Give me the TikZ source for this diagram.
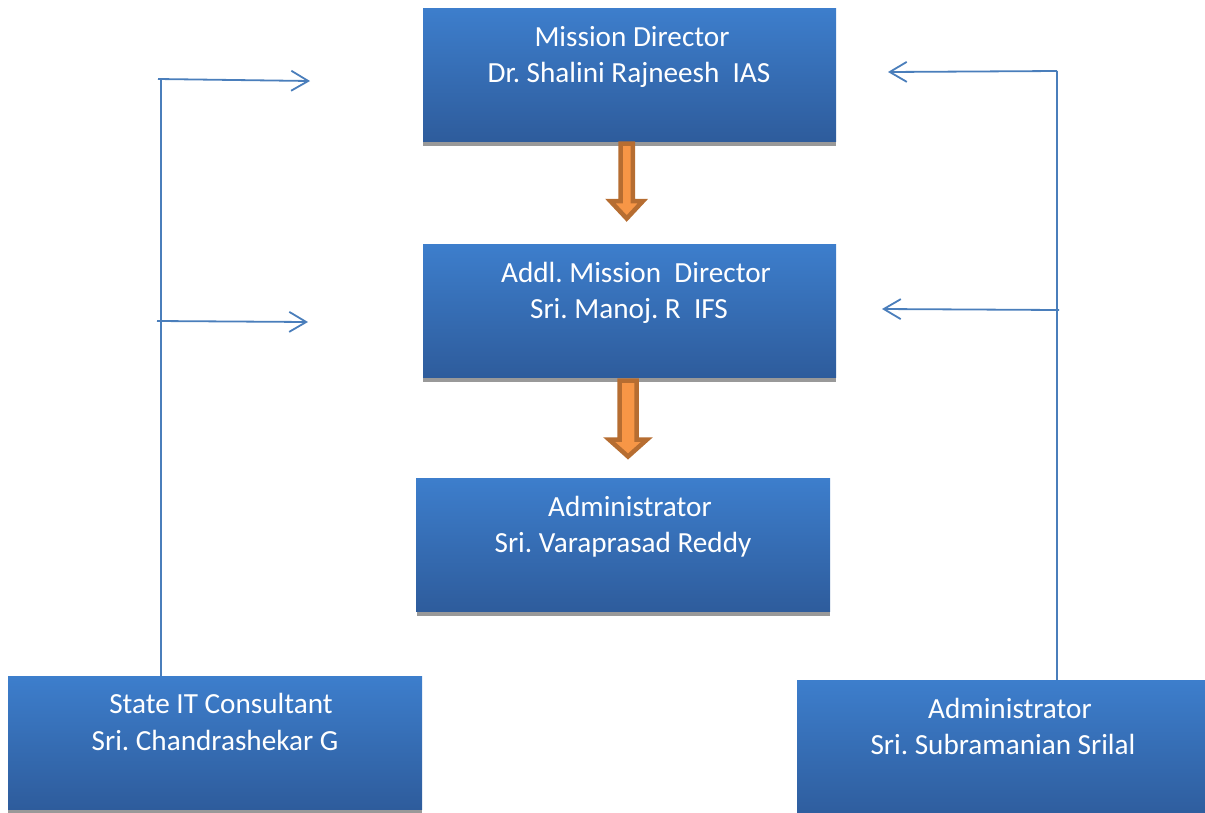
\documentclass[tikz,border=0pt]{standalone}
\usepackage{fontspec}
\setmainfont{Carlito}
\frenchspacing
\usetikzlibrary{arrows.meta}
\definecolor{boxtop}{RGB}{61,126,204}
\definecolor{boxbot}{RGB}{46,92,156}
\definecolor{shadowgray}{RGB}{153,153,153}
\definecolor{linkblue}{RGB}{74,126,187}
\definecolor{orfill}{RGB}{247,150,70}
\definecolor{ordraw}{RGB}{182,109,49}
\tikzset{
  orgbox/.style={rectangle, inner sep=0pt, top color=boxtop, bottom color=boxbot, draw=none, anchor=north west},
  shadowbar/.style={fill=shadowgray, draw=none},
  txt/.style={text=white, font=\fontsize{29.2}{35}\selectfont, anchor=base, inner sep=0pt},
  conn/.style={draw=linkblue, line width=1.8pt},
  connarrow/.style={conn, -{Straight Barb[length=17pt,width=20pt,line width=1.8pt]}},
  blockarrow/.style={fill=orfill, draw=ordraw, line width=4.5pt, line join=miter}
}
\begin{document}
\begin{tikzpicture}[x=1pt,y=-1pt]
\useasboundingbox (0,0) rectangle (1205,812);
% shadows
\fill[shadowgray] (423,141) rectangle (836,146);
\fill[shadowgray] (423,377) rectangle (836,382);
\fill[shadowgray] (417,611) rectangle (830,616);
\fill[shadowgray] (8,809) rectangle (422,814);
% boxes
\node[orgbox, minimum width=413pt, minimum height=133pt] (md) at (423,8) {};
\node[orgbox, minimum width=413pt, minimum height=133pt] (amd) at (423,244) {};
\node[orgbox, minimum width=414pt, minimum height=133pt] (adm) at (416,478) {};
\node[orgbox, minimum width=414pt, minimum height=133pt] (sitc) at (8,676) {};
\node[orgbox, minimum width=410pt, minimum height=140pt] (adm2) at (797,680) {};
% texts
\node[txt] (md1) at (632,46) {Mission Director};
\node[txt] (md2) at (629,82) {Dr. Shalini Rajneesh\ \ IAS};
\node[txt] (amd1) at (636,282) {Addl. Mission\ \ Director};
\node[txt] (amd2) at (629,318) {Sri. Manoj. R\ \ IFS};
\node[txt] (adm1) at (630,516) {Administrator};
\node[txt] (adm1b) at (623,552) {Sri. Varaprasad Reddy};
\node[txt] (sitc1) at (221,713) {State IT Consultant};
\node[txt] (sitc2) at (215,750) {Sri. Chandrashekar G};
\node[txt] (adm21) at (1010,718) {Administrator};
\node[txt] (adm22) at (1003,754) {Sri. Subramanian Srilal};
% block arrows
\draw[blockarrow] (620.5,143.5) -- (632.8,143.5) -- (632.8,201) -- (643,201) -- (626.7,218.5) -- (610.3,201) -- (620.5,201) -- cycle;
\draw[blockarrow] (619.5,380.5) -- (636.5,380.5) -- (636.5,439.5) -- (647,439.5) -- (628,456.5) -- (609,439.5) -- (619.5,439.5) -- cycle;
% left connectors
\coordinate (lt) at (161,79);
\coordinate (lts) at (158,79);
\coordinate (ltip) at (310,81);
\coordinate (lbs) at (157,321);
\coordinate (lbtip) at (308,322);
\draw[conn] (sitc.north west -| lt) -- (lt);
\draw[connarrow] (lts) -- (ltip);
\draw[connarrow] (lbs) -- (lbtip);
% right connectors
\coordinate (rt) at (1057,71);
\coordinate (rtip) at (888,72);
\coordinate (rbs) at (1059,310);
\coordinate (rbtip) at (882,309);
\draw[conn] (adm2.north west -| rt) -- (rt);
\draw[connarrow] (rt) -- (rtip);
\draw[connarrow] (rbs) -- (rbtip);
\end{tikzpicture}
\end{document}
